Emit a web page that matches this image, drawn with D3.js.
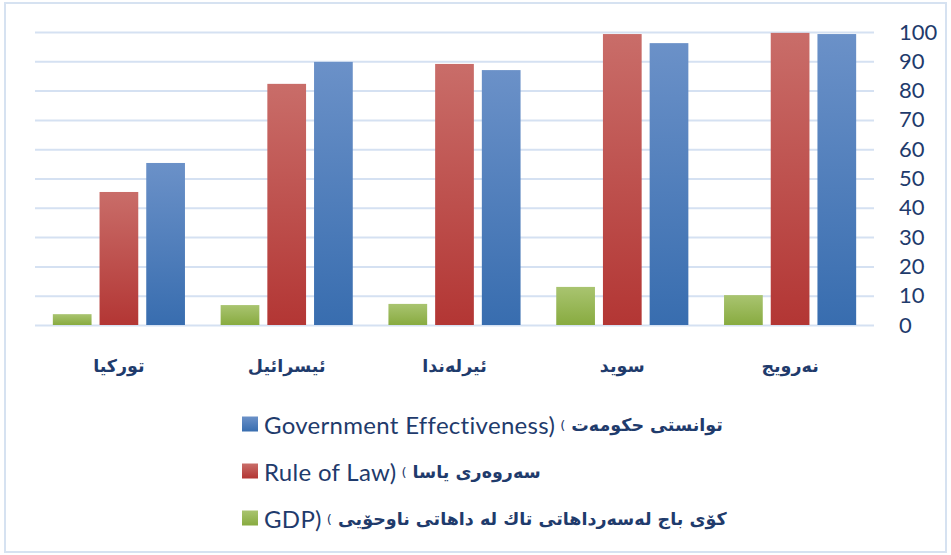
<!DOCTYPE html>
<html>
<head>
<meta charset="utf-8">
<script src="https://cdn.jsdelivr.net/npm/d3@7"></script>
<style>
  html, body { margin: 0; padding: 0; background: #fff; }
  svg { display: block; }
</style>
</head>
<body>
<div id="chart"></div>
<script>
// categories, left to right as drawn
const countries = ["تورکیا", "ئیسرائیل", "ئیرلەندا", "سوید", "نەرویج"];
const seriesKeys = ["gdp", "law", "gov"];

// values
const gdpValues = [3.7, 6.8, 7.2, 13.0, 10.2];
const lawValues = [45.4, 82.3, 89.1, 99.3, 99.7];
const govValues = [55.3, 89.8, 87.0, 96.2, 99.3];

const yTicks = [0, 10, 20, 30, 40, 50, 60, 70, 80, 90, 100];

const legendItems = [
  { key: "gov", en: "Government Effectiveness)", ku: "توانستی حکومەت" },
  { key: "law", en: "Rule of Law)", ku: "سەروەری یاسا" },
  { key: "gdp", en: "GDP)", ku: "کۆی باج لەسەرداهاتی تاك لە داهاتی  ناوحۆیی" }
];

const W = 951, H = 555;
const plot = { left: 35, right: 874, top: 32, bottom: 325 };
const navy = "#1f3b6c";

const colors = {
  gdp: ["#a9c470", "#88ab40"],
  law: ["#c96d69", "#b33634"],
  gov: ["#6b91c8", "#386daf"]
};

const rows = countries.map((c, i) => ({
  country: c,
  gdp: gdpValues[i],
  law: lawValues[i],
  gov: govValues[i]
}));

const svg = d3.select("#chart")
  .append("svg")
  .attr("width", W)
  .attr("height", H);

// gradients for the bars
const defs = svg.append("defs");
seriesKeys.forEach(k => {
  const g = defs.append("linearGradient")
    .attr("id", "grad-" + k)
    .attr("x1", 0).attr("y1", 0).attr("x2", 0).attr("y2", 1);
  g.append("stop").attr("offset", "0%").attr("stop-color", colors[k][0]);
  g.append("stop").attr("offset", "100%").attr("stop-color", colors[k][1]);
});

// outer frame
svg.append("rect")
  .attr("x", 5).attr("y", 3)
  .attr("width", 941).attr("height", 549)
  .attr("fill", "none")
  .attr("stroke", "#d6e2f1")
  .attr("stroke-width", 2);

const x0 = d3.scaleBand()
  .domain(countries)
  .range([plot.left, plot.right]);

const x1 = d3.scaleBand()
  .domain(seriesKeys)
  .range([0, x0.bandwidth()])
  .paddingInner(0.171)
  .paddingOuter(0.382);

const y = d3.scaleLinear()
  .domain([0, 100])
  .range([plot.bottom, plot.top]);

// gridlines + right-hand labels
const yAxis = svg.append("g")
  .attr("transform", `translate(${plot.left},0)`)
  .call(d3.axisRight(y)
    .tickValues(yTicks)
    .tickSize(plot.right - plot.left)
    .tickPadding(25));

yAxis.select(".domain").remove();
yAxis.selectAll(".tick line")
  .attr("stroke", "#d5e1f2")
  .attr("stroke-width", 2);
yAxis.selectAll(".tick text")
  .attr("fill", navy)
  .style("font-family", "Lato, 'Open Sans', sans-serif")
  .style("font-size", "22px");

// bars
const groups = svg.selectAll("g.country")
  .data(rows)
  .join("g")
  .attr("class", "country")
  .attr("transform", d => `translate(${x0(d.country)},0)`);

groups.selectAll("rect")
  .data(d => seriesKeys.map(k => ({ key: k, value: d[k] })))
  .join("rect")
  .attr("x", d => x1(d.key))
  .attr("y", d => y(d.value))
  .attr("width", x1.bandwidth())
  .attr("height", d => y(0) - y(d.value))
  .attr("fill", d => `url(#grad-${d.key})`);

// category labels
svg.append("g")
  .selectAll("text")
  .data(countries)
  .join("text")
  .attr("x", d => x0(d) + x0.bandwidth() / 2)
  .attr("y", 366)
  .attr("text-anchor", "middle")
  .attr("dominant-baseline", "central")
  .attr("fill", navy)
  .style("font-family", "'DejaVu Sans', sans-serif")
  .style("font-weight", "bold")
  .style("font-size", "17.5px")
  .text(d => d);

// legend
const legend = svg.append("g")
  .attr("transform", "translate(242,424)");

const item = legend.selectAll("g")
  .data(legendItems)
  .join("g")
  .attr("transform", (d, i) => `translate(0,${i * 47})`);

item.append("rect")
  .attr("x", 0).attr("y", -7.5)
  .attr("width", 16).attr("height", 15)
  .attr("fill", d => `url(#grad-${d.key})`);

item.each(function(d) {
  const g = d3.select(this);
  const en = g.append("text")
    .attr("x", 22)
    .attr("y", 0)
    .attr("dominant-baseline", "central")
    .attr("fill", navy)
    .style("font-family", "Lato, 'Open Sans', sans-serif")
    .style("font-size", "24px")
    .style("letter-spacing", "0.3px")
    .text(d.en);
  const enW = en.node().getComputedTextLength();
  const paren = g.append("text")
    .attr("x", 22 + enW + 5)
    .attr("y", 1)
    .attr("dominant-baseline", "central")
    .attr("fill", navy)
    .style("font-family", "'DejaVu Sans', sans-serif")
    .style("font-size", "13px")
    .text("(");
  const pW = paren.node().getComputedTextLength();
  g.append("text")
    .attr("x", 22 + enW + 5 + pW + 6)
    .attr("y", 1)
    .attr("dominant-baseline", "central")
    .attr("fill", navy)
    .style("font-family", "'DejaVu Sans', sans-serif")
    .style("font-weight", "bold")
    .style("font-size", "17.5px")
    .text(d.ku);
});
</script>
</body>
</html>
